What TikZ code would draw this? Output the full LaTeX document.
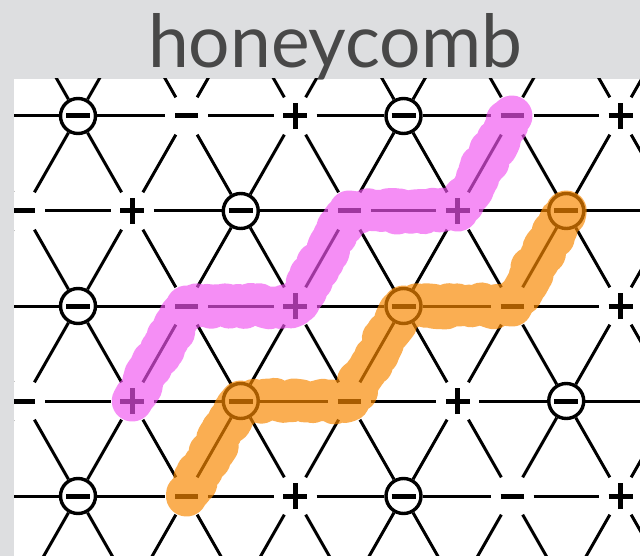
\documentclass[tikz,border=0pt]{standalone}
\usepackage{fontspec}
\setmainfont{Lato}
\usepackage{graphicx}
\usetikzlibrary{decorations.pathmorphing}
\definecolor{bg}{RGB}{221,222,224}
\definecolor{titlegray}{RGB}{72,72,72}
\definecolor{hlmag}{RGB}{240,84,240}
\definecolor{hlorg}{RGB}{248,136,0}
\begin{document}
\begin{tikzpicture}[x=1pt,y=-1pt,
  site/.style={circle, inner sep=0pt, outer sep=0pt, minimum size=43pt},
  bar/.style={line width=5pt, line cap=butt},
  minussite/.style={site, path picture={\draw[bar] ([xshift=-11.5pt]path picture bounding box.center) -- ([xshift=11.5pt]path picture bounding box.center);}},
  plussite/.style={site, path picture={\draw[bar] ([xshift=-12pt]path picture bounding box.center) -- ([xshift=12pt]path picture bounding box.center);
      \draw[bar] ([yshift=-13pt]path picture bounding box.center) -- ([yshift=13pt]path picture bounding box.center);}},
  circsite/.style={circle, draw, line width=3.4pt, inner sep=0pt, minimum size=35pt,
      path picture={\draw[bar] ([xshift=-12pt]path picture bounding box.center) -- ([xshift=12pt]path picture bounding box.center);}},
  edge/.style={line width=3pt},
  hlcore/.style={line width=38pt, line cap=round, line join=round},
  hlrough/.style={line width=41pt, line cap=round, line join=round,
      decorate, decoration={random steps, segment length=4pt, amplitude=3pt}}
]
\useasboundingbox (0,0) rectangle (640,556);
\fill[bg] (0,0) rectangle (640,556);
\begin{scope}
\fill[white] (14,79) rectangle (640,556);
\clip (14,79) rectangle (640,556);
\foreach \R in {0,...,6}{
  \foreach \I in {0,...,7}{
    \pgfmathtruncatemacro\odd{mod(\R,2)}
    \ifnum\odd=1
      \pgfmathsetmacro\x{78+108.5*(\I-1)}
      \pgfmathtruncatemacro\t{mod(\I+2,3)}
    \else
      \pgfmathsetmacro\x{23.75+108.5*(\I-1)}
      \pgfmathtruncatemacro\t{mod(\I,3)}
    \fi
    \pgfmathsetmacro\y{21+95*\R}
    \ifcase\t
      \node[circsite] (n\R_\I) at (\x,\y) {};
    \or
      \node[minussite] (n\R_\I) at (\x,\y) {};
    \or
      \node[plussite] (n\R_\I) at (\x,\y) {};
    \fi
  }
}
\foreach \R in {0,...,6}{
  \foreach \I in {0,...,6}{
    \pgfmathtruncatemacro\J{\I+1}
    \draw[edge] (n\R_\I) -- (n\R_\J);
  }
}
\foreach \R in {0,...,5}{
  \pgfmathtruncatemacro\S{\R+1}
  \pgfmathtruncatemacro\odd{mod(\R,2)}
  \foreach \I in {0,...,7}{
    \pgfmathtruncatemacro\Ip{\I+1}
    \pgfmathtruncatemacro\Im{\I-1}
    \draw[edge] (n\R_\I) -- (n\S_\I);
    \ifnum\odd=1
      \ifnum\I<7 \draw[edge] (n\R_\I) -- (n\S_\Ip); \fi
    \else
      \ifnum\I>0 \draw[edge] (n\R_\I) -- (n\S_\Im); \fi
    \fi
  }
}
\pgfmathsetseed{11}
\begin{scope}[transparency group, opacity=0.66]
\draw[hlcore, draw=hlmag] (n4_2.center) -- (n3_2.center) -- (n3_3.center) -- (n2_4.center) -- (n2_5.center) -- (n1_5.center);
\draw[hlrough, draw=hlmag] (n4_2.center) -- (n3_2.center) -- (n3_3.center) -- (n2_4.center) -- (n2_5.center) -- (n1_5.center);
\end{scope}
\begin{scope}[transparency group, opacity=0.68]
\draw[hlcore, draw=hlorg] (n5_2.center) -- (n4_3.center) -- (n4_4.center) -- (n3_4.center) -- (n3_5.center) -- (n2_6.center);
\draw[hlrough, draw=hlorg] (n5_2.center) -- (n4_3.center) -- (n4_4.center) -- (n3_4.center) -- (n3_5.center) -- (n2_6.center);
\end{scope}
\end{scope}
\node[anchor=base west, inner sep=0pt, text=titlegray] (title) at (148,68) {\resizebox{374pt}{54pt}{honeycomb}};
\end{tikzpicture}
\end{document}
